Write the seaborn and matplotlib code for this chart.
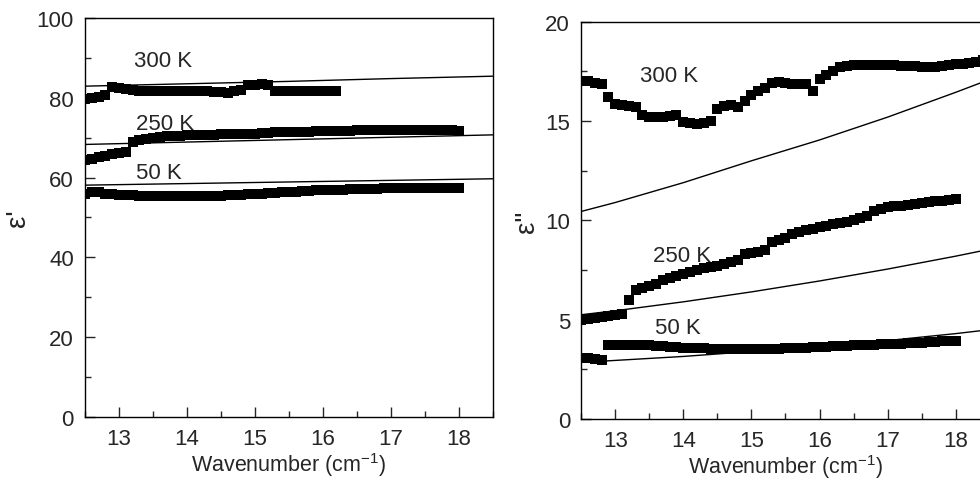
import numpy as np
import pandas as pd
import matplotlib
matplotlib.use("Agg")
import matplotlib.pyplot as plt
import seaborn as sns
from matplotlib.ticker import MultipleLocator

# ---- data ----
wn_to_16 = [12.5, 12.6, 12.7, 12.8, 12.9, 13.0, 13.1, 13.2, 13.3, 13.4, 13.5, 13.6, 13.7,
            13.8, 13.9, 14.0, 14.1, 14.2, 14.3, 14.4, 14.5, 14.6, 14.7, 14.8, 14.9, 15.0,
            15.1, 15.2, 15.3, 15.4, 15.5, 15.6, 15.7, 15.8, 15.9, 16.0, 16.1, 16.2]
wn_to_18 = wn_to_16 + [16.3, 16.4, 16.5, 16.6, 16.7, 16.8, 16.9, 17.0, 17.1, 17.2, 17.3,
                       17.4, 17.5, 17.6, 17.7, 17.8, 17.9, 18.0]
wn_to_184 = wn_to_18 + [18.1, 18.2, 18.3, 18.4]

# real part (eps')
eps1_300 = [79.6, 79.9, 80.3, 80.8, 82.8, 82.4, 82.1, 81.9, 81.8, 81.8, 81.8, 81.8, 81.8,
            81.8, 81.8, 81.8, 81.8, 81.7, 81.6, 81.5, 81.4, 81.3, 81.6, 82.0, 83.2, 83.3,
            83.4, 83.3, 81.7, 81.7, 81.7, 81.7, 81.7, 81.7, 81.7, 81.7, 81.7, 81.7]
eps1_250 = [64.3, 64.7, 65.1, 65.5, 65.9, 66.2, 66.5, 68.9, 69.3, 69.6, 69.9, 70.1, 70.3,
            70.4, 70.5, 70.6, 70.6, 70.7, 70.7, 70.7, 70.8, 70.8, 70.9, 70.9, 71.0, 71.0,
            71.1, 71.2, 71.3, 71.4, 71.4, 71.5, 71.5, 71.5, 71.6, 71.6, 71.6, 71.7, 71.7,
            71.7, 71.8, 71.8, 71.8, 71.9, 71.9, 71.9, 72.0, 72.0, 72.0, 72.0, 72.0, 71.9,
            71.9, 71.8, 71.8, 71.7]
eps1_50 = [55.9, 56.3, 56.3, 56.0, 55.8, 55.7, 55.6, 55.6, 55.5, 55.5, 55.5, 55.4, 55.4,
           55.4, 55.4, 55.4, 55.4, 55.4, 55.4, 55.5, 55.5, 55.6, 55.6, 55.7, 55.8, 55.9,
           56.0, 56.1, 56.2, 56.3, 56.4, 56.5, 56.6, 56.7, 56.8, 56.8, 56.9, 57.0, 57.0,
           57.1, 57.1, 57.2, 57.2, 57.2, 57.3, 57.3, 57.3, 57.3, 57.4, 57.4, 57.4, 57.4,
           57.4, 57.4, 57.4, 57.4]

fit_wn = [12.5, 14.0, 15.5, 17.0, 18.5]
fit1_300 = [82.9, 83.5, 84.1, 84.8, 85.4]
fit1_250 = [68.3, 68.9, 69.5, 70.1, 70.7]
fit1_50 = [58.1, 58.5, 58.9, 59.3, 59.7]

# imaginary part (eps'')
eps2_300 = [17.0, 17.0, 16.9, 16.85, 16.2, 15.85, 15.8, 15.75, 15.7, 15.3, 15.2, 15.2, 15.2,
            15.25, 15.3, 14.95, 14.9, 14.85, 14.9, 15.0, 15.6, 15.75, 15.8, 15.7, 16.0, 16.3,
            16.5, 16.65, 16.9, 16.95, 16.9, 16.85, 16.85, 16.85, 16.5, 17.1, 17.3, 17.5,
            17.7, 17.75, 17.8, 17.8, 17.8, 17.8, 17.8, 17.8, 17.8, 17.75, 17.75, 17.75, 17.7,
            17.7, 17.7, 17.75, 17.8, 17.85, 17.9, 17.95, 18.0, 18.1]
eps2_250 = [5.0, 5.05, 5.1, 5.15, 5.2, 5.25, 5.3, 6.0, 6.5, 6.6, 6.7, 6.8, 7.0,
            7.1, 7.2, 7.3, 7.4, 7.5, 7.6, 7.65, 7.7, 7.8, 7.9, 8.0, 8.3, 8.35,
            8.4, 8.5, 8.9, 9.0, 9.1, 9.3, 9.4, 9.5, 9.55, 9.65, 9.7, 9.8, 9.85,
            9.9, 10.0, 10.1, 10.2, 10.45, 10.55, 10.65, 10.7, 10.75, 10.8, 10.85, 10.9,
            10.95, 11.0, 11.0, 11.05, 11.1]
eps2_50 = [3.05, 3.05, 3.0, 2.95, 3.72, 3.75, 3.75, 3.75, 3.75, 3.75, 3.72, 3.7, 3.68,
           3.65, 3.62, 3.6, 3.58, 3.57, 3.56, 3.55, 3.55, 3.55, 3.55, 3.55, 3.55, 3.55,
           3.55, 3.55, 3.55, 3.55, 3.56, 3.57, 3.58, 3.6, 3.61, 3.62, 3.64, 3.66, 3.68,
           3.7, 3.71, 3.72, 3.73, 3.75, 3.76, 3.77, 3.78, 3.8, 3.81, 3.83, 3.85, 3.87,
           3.89, 3.91, 3.93, 3.95]

fit2_wn = [12.5, 13.0, 14.0, 15.0, 16.0, 17.0, 18.0, 18.5]
fit2_300 = [10.45, 10.9, 11.9, 13.0, 14.05, 15.2, 16.45, 17.1]
fit2_250 = [5.25, 5.45, 5.9, 6.4, 6.95, 7.55, 8.2, 8.55]
fit2_50 = [2.85, 2.95, 3.15, 3.4, 3.65, 3.95, 4.3, 4.5]

sns.set_style("ticks")
plt.rcParams["font.family"] = ["Liberation Sans", "DejaVu Sans"]
plt.rcParams["mathtext.default"] = "regular"
plt.rcParams["font.size"] = 16

fig = plt.figure(figsize=(9.8, 4.85), dpi=100)
ax1 = fig.add_axes([0.0867, 0.138, 0.416, 0.823])
ax2 = fig.add_axes([0.593, 0.134, 0.417, 0.819])

msize = 52
lab_fs = 16

# left panel
for x, y in [(wn_to_16, eps1_300), (wn_to_18, eps1_250), (wn_to_18, eps1_50)]:
    sns.scatterplot(x=x, y=y, ax=ax1, marker="s", color="black", s=msize,
                    linewidth=0, legend=False)
for y in [fit1_300, fit1_250, fit1_50]:
    sns.lineplot(x=fit_wn, y=y, ax=ax1, color="black", linewidth=1)

ax1.text(13.22, 89.4, "300 K", fontsize=lab_fs, va="center")
ax1.text(13.25, 73.6, "250 K", fontsize=lab_fs, va="center")
ax1.text(13.25, 61.3, "50 K", fontsize=lab_fs, va="center")
ax1.set_ylim(0, 100)
ax1.yaxis.set_major_locator(MultipleLocator(20))
ax1.yaxis.set_minor_locator(MultipleLocator(10))
ax1.set_ylabel("ε'", fontsize=20, labelpad=4)

# right panel
for x, y in [(wn_to_184, eps2_300), (wn_to_18, eps2_250), (wn_to_18, eps2_50)]:
    sns.scatterplot(x=x, y=y, ax=ax2, marker="s", color="black", s=msize,
                    linewidth=0, legend=False)
for y in [fit2_300, fit2_250, fit2_50]:
    sns.lineplot(x=fit2_wn, y=y, ax=ax2, color="black", linewidth=1)

ax2.text(13.36, 17.3, "300 K", fontsize=lab_fs, va="center")
ax2.text(13.55, 8.25, "250 K", fontsize=lab_fs, va="center")
ax2.text(13.59, 4.6, "50 K", fontsize=lab_fs, va="center")
ax2.set_ylim(0, 20)
ax2.yaxis.set_major_locator(MultipleLocator(5))
ax2.yaxis.set_minor_locator(MultipleLocator(2.5))
ax2.set_ylabel('ε"', fontsize=20, labelpad=4)

for ax in (ax1, ax2):
    ax.set_xlim(12.5, 18.5)
    ax.xaxis.set_major_locator(MultipleLocator(1))
    ax.xaxis.set_minor_locator(MultipleLocator(0.5))
    ax.set_xlabel("Wavenumber (cm$^{-1}$)", fontsize=15.5, labelpad=1)
    ax.tick_params(which="both", direction="in", top=False, right=False,
                   width=1, labelsize=16)
    ax.tick_params(axis="x", pad=8)
    ax.tick_params(axis="y", pad=8)
    ax.tick_params(which="major", length=7)
    ax.tick_params(which="minor", length=4)
    for sp in ax.spines.values():
        sp.set_visible(True)
        sp.set_linewidth(1)
        sp.set_color("black")

fig.savefig("out.png", dpi=100)
